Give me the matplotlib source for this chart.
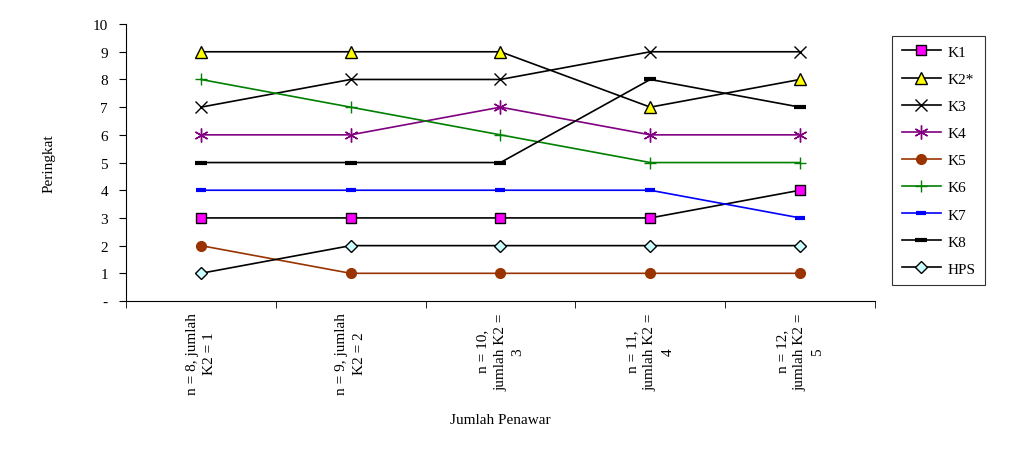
import matplotlib.pyplot as plt
import numpy as np

plt.rcParams['font.family'] = 'Liberation Serif'

categories = ["n = 8, jumlah\nK2 = 1", "n = 9, jumlah\nK2 = 2", "n = 10,\njumlah K2 =\n3",
              "n = 11,\njumlah K2 =\n4", "n = 12,\njumlah K2 =\n5"]
names = ["K1", "K2*", "K3", "K4", "K5", "K6", "K7", "K8", "HPS"]
k1 = [3, 3, 3, 3, 4]
k2 = [9, 9, 9, 7, 8]
k3 = [7, 8, 8, 9, 9]
k4 = [6, 6, 7, 6, 6]
k5 = [2, 1, 1, 1, 1]
k6 = [8, 7, 6, 5, 5]
k7 = [4, 4, 4, 4, 3]
k8 = [5, 5, 5, 8, 7]
hps = [1, 2, 2, 2, 2]
series = [k1, k2, k3, k4, k5, k6, k7, k8, hps]

# (line colour, marker, marker face, marker edge, size)
styles = [
    ("black", "s", "#ff00ff", "black", 6.5),
    ("black", "^", "#ffff00", "black", 8),
    ("black", "x", "none", "black", 8),
    ("#800080", (6, 2, 0), "none", "#800080", 10),
    ("#993300", "o", "#993300", "#993300", 7),
    ("#008000", "+", "none", "#008000", 9),
    ("#0000ff", "_", "none", "#0000ff", 7),
    ("black", "_", "none", "black", 8),
    ("black", "D", "#ccffff", "black", 6),
]

fig = plt.figure(figsize=(10.3, 4.56), dpi=100)
ax = fig.add_axes([0.1223, 0.3377, 0.7272, 0.6073])

x = np.arange(len(categories)) + 0.5
for name, vals, st in zip(names, series, styles):
    col, mk, fc, ec, ms = st
    mew = 3 if mk == "_" else 1.0
    ax.plot(x, vals, color=col, lw=1.2, marker=mk, markerfacecolor=fc,
            markeredgecolor=ec, markersize=ms, markeredgewidth=mew, label=name)

ax.set_xlim(0, len(categories))
ax.set_ylim(0, 10)
ax.set_yticks(range(11))
ax.set_yticklabels(["-"] + [str(i) for i in range(1, 11)], fontsize=11)
ax.set_xticks(x)
ax.set_xticklabels(categories, rotation=90, fontsize=11, ha='center', va='top',
                   multialignment='center', linespacing=1.45)
ax.tick_params(axis='x', length=0, pad=8)
ax.set_xticks(np.arange(len(categories) + 1), minor=True)
ax.tick_params(axis='x', which='minor', length=5, direction='out')
ax.tick_params(axis='y', length=5, direction='out', pad=8)
ax.spines['top'].set_visible(False)
ax.spines['right'].set_visible(False)

ax.set_xlabel("Jumlah Penawar", fontsize=11, labelpad=14)
ax.set_ylabel("Peringkat", fontsize=11, labelpad=27)

leg = ax.legend(loc='upper left', bbox_to_anchor=(1.013, 0.985), frameon=True,
                fancybox=False, edgecolor='black', fontsize=11, handlelength=2.6,
                handletextpad=0.4, labelspacing=0.88, borderpad=0.6)
leg.get_frame().set_linewidth(0.8)

fig.savefig("out.png", dpi=100)
